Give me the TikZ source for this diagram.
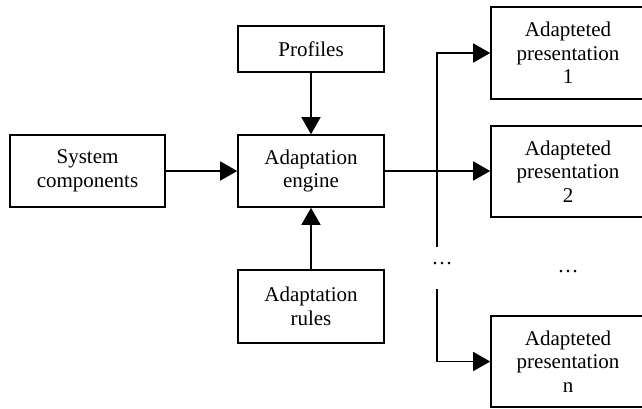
\documentclass[tikz,border=0pt]{standalone}
\usepackage{fontspec}
\setmainfont{Liberation Serif}
\usetikzlibrary{arrows.meta}
\begin{document}
\begin{tikzpicture}[x=1pt,y=-1pt,
  box/.style={draw,line width=1.6pt,rectangle,align=center,inner sep=0pt,
    font=\fontsize{21}{23.5}\selectfont},
  conn/.style={line width=1.5pt,-{Triangle[length=17pt,width=19pt]}},
  dots/.style={font=\fontsize{21}{23.5}\selectfont,inner sep=0pt}]
\useasboundingbox (0,0) rectangle (642,408);
\clip (0,0) rectangle (642,408);
\node[box,minimum width=155pt,minimum height=72pt] (sys) at (87.5,171) {System\\components};
\node[box,minimum width=146pt,minimum height=72pt] (eng) at (311,171) {Adaptation\\engine};
\node[box,minimum width=146pt,minimum height=46pt] (prof) at (311,49) {Profiles};
\node[box,minimum width=146pt,minimum height=73pt] (rules) at (311,306.5) {Adaptation\\rules};
\node[box,minimum width=154pt,minimum height=92pt] (p1) at (568,53) {Adapteted\\presentation\\1};
\node[box,minimum width=154pt,minimum height=91pt] (p2) at (568,171.5) {Adapteted\\presentation\\2};
\node[box,minimum width=154pt,minimum height=91pt] (pn) at (568,361.5) {Adapteted\\presentation\\n};
\node[dots] (d1) at (442,264) {…};
\node[dots] (d2) at (568,272) {…};
\coordinate (ta) at (437,247);
\coordinate (tb) at (437,289);
\draw[conn] (sys) -- (eng);
\draw[conn] (prof) -- (eng);
\draw[conn] (rules) -- (eng);
\draw[conn] (eng.east) -- (eng.east -| p2.west);
\draw[conn] (ta) |- (p1.west);
\draw[conn] (tb) |- (pn.west);
\end{tikzpicture}
\end{document}
